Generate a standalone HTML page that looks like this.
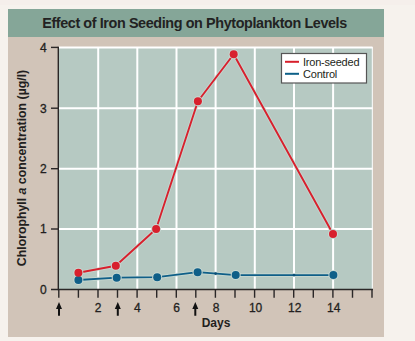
<!DOCTYPE html>
<html><head><meta charset="utf-8">
<style>
html,body{margin:0;padding:0;width:415px;height:341px;overflow:hidden;background:#f6f2ed;}
svg{display:block;}
text{font-family:"Liberation Sans",sans-serif;}
</style></head>
<body>
<svg width="415" height="341" viewBox="0 0 415 341">
  <rect x="0" y="0" width="415" height="341" fill="#f6f2ed"/>
  <rect x="0" y="0" width="415" height="5" fill="#f5efeb"/>
  <!-- panel -->
  <rect x="8" y="9" width="376" height="328" fill="#d1c4b8"/>
  <rect x="8" y="9" width="376" height="28" fill="#85a698"/>
  <text x="42.2" y="27.8" font-size="14.4" letter-spacing="-0.4" font-weight="bold" fill="#222">Effect of Iron Seeding on Phytoplankton Levels</text>

  <!-- plot area -->
  <rect x="59" y="47" width="313.5" height="242.5" fill="#b6c9c2"/>
  <g stroke="#fff" stroke-width="2" fill="none">
    <line x1="59" y1="47.4" x2="372.5" y2="47.4"/>
    <line x1="59" y1="108.2" x2="372.5" y2="108.2"/>
    <line x1="59" y1="168.7" x2="372.5" y2="168.7"/>
    <line x1="59" y1="229" x2="372.5" y2="229"/>
    <line x1="98.2" y1="47" x2="98.2" y2="289"/>
    <line x1="137.3" y1="47" x2="137.3" y2="289"/>
    <line x1="176.5" y1="47" x2="176.5" y2="289"/>
    <line x1="215.6" y1="47" x2="215.6" y2="289"/>
    <line x1="254.8" y1="47" x2="254.8" y2="289"/>
    <line x1="294" y1="47" x2="294" y2="289"/>
    <line x1="333.1" y1="47" x2="333.1" y2="289"/>
    <line x1="372.3" y1="47" x2="372.3" y2="289" stroke-width="1"/>
  </g>

  <!-- axes -->
  <g stroke="#2a2727" stroke-width="1.4" fill="none">
    <line x1="58.3" y1="46.8" x2="58.3" y2="290.2"/>
    <line x1="51" y1="289.5" x2="373" y2="289.5"/>
    <line x1="51" y1="47.4" x2="58.3" y2="47.4"/>
    <line x1="51" y1="108.2" x2="58.3" y2="108.2"/>
    <line x1="51" y1="168.7" x2="58.3" y2="168.7"/>
    <line x1="51" y1="229" x2="58.3" y2="229"/>
    <path d="M58.8 289.5V297.7M78.4 289.5V297.7M98 289.5V297.7M117.5 289.5V297.7M137.1 289.5V297.7M156.7 289.5V297.7M176.3 289.5V297.7M195.8 289.5V297.7M215.4 289.5V297.7M235 289.5V297.7M254.6 289.5V297.7M274.1 289.5V297.7M293.7 289.5V297.7M313.3 289.5V297.7M332.9 289.5V297.7M352.5 289.5V297.7M372 289.5V297.7"/>
  </g>

  <!-- y labels -->
  <g font-size="12" fill="#231f20" stroke="#231f20" stroke-width="0.3" text-anchor="end" transform="translate(-0.4,0)">
    <text x="47" y="51.8">4</text>
    <text x="47" y="112.6">3</text>
    <text x="47" y="173.1">2</text>
    <text x="47" y="233.4">1</text>
    <text x="47" y="293.9">0</text>
  </g>
  <!-- x labels -->
  <g font-size="12" fill="#231f20" stroke="#231f20" stroke-width="0.3" text-anchor="middle">
    <text x="98.2" y="312.3">2</text>
    <text x="137.3" y="312.3">4</text>
    <text x="176.5" y="312.3">6</text>
    <text x="216" y="312.3">8</text>
    <text x="255.6" y="312.3">10</text>
    <text x="294.7" y="312.3">12</text>
    <text x="333.8" y="312.3">14</text>
  </g>
  <text x="216" y="326.8" font-size="12" font-weight="bold" fill="#231f20" text-anchor="middle">Days</text>
  <text transform="translate(25.9,168) rotate(-90)" font-size="12.3" font-weight="bold" fill="#231f20" text-anchor="middle">Chlorophyll <tspan font-style="italic">a</tspan> concentration (µg/l)</text>

  <!-- arrows -->
  <g fill="#111" stroke="none">
    <path d="M59 302L56 309H58V315.8H60V309H62Z"/>
    <path d="M117.8 302L114.8 309H116.8V315.8H118.8V309H120.8Z"/>
    <path d="M195.3 302L192.3 309H194.3V315.8H196.3V309H198.3Z"/>
  </g>

  <!-- data lines -->
  <g fill="none" stroke-linejoin="round" stroke="#cadbd4" stroke-width="3.8" opacity="0.7">
    <polyline points="78.4,280 116.7,277.7 157.2,277.2 197.6,272.2 235.7,275.1 333.4,275.05"/>
    <polyline points="78.4,272.8 115.8,265.8 156.1,229 197.9,101.3 233.67,54.2 333,234"/>
  </g>
  <g fill="none" stroke-linejoin="round">
    <polyline stroke="#0f5f88" stroke-width="1.8" points="78.4,280 116.7,277.7 157.2,277.2 197.6,272.2 235.7,275.1 333.4,275.05"/>
    <polyline stroke="#d8202d" stroke-width="1.9" points="78.4,272.8 115.8,265.8 156.1,229 197.9,101.3 233.67,54.2 333,234"/>
  </g>
  <g fill="#c9d9d3">
    <circle cx="78.4" cy="280" r="5"/>
    <circle cx="116.7" cy="277.7" r="5"/>
    <circle cx="157.2" cy="277.2" r="5"/>
    <circle cx="197.6" cy="272.2" r="5"/>
    <circle cx="235.7" cy="275.1" r="5"/>
    <circle cx="333.4" cy="275.05" r="5"/>
    <circle cx="78.4" cy="272.8" r="5"/>
    <circle cx="115.8" cy="265.8" r="5"/>
    <circle cx="156.1" cy="229" r="5"/>
    <circle cx="197.9" cy="101.3" r="5"/>
    <circle cx="233.67" cy="54.2" r="5"/>
    <circle cx="333" cy="234" r="5"/>
  </g>
  <g fill="#0f5f88">
    <circle cx="78.4" cy="280" r="4"/>
    <circle cx="116.7" cy="277.7" r="4"/>
    <circle cx="157.2" cy="277.2" r="4"/>
    <circle cx="197.6" cy="272.2" r="4"/>
    <circle cx="235.7" cy="275.1" r="4"/>
    <circle cx="333.4" cy="275.05" r="4"/>
  </g>
  <g fill="#d8202d">
    <circle cx="78.4" cy="272.8" r="4"/>
    <circle cx="115.8" cy="265.8" r="4"/>
    <circle cx="156.1" cy="229" r="4"/>
    <circle cx="197.9" cy="101.3" r="4"/>
    <circle cx="233.67" cy="54.2" r="4"/>
    <circle cx="333" cy="234" r="4"/>
  </g>

  <g fill="#0b4f75">
    <circle cx="215.6" cy="273.57" r="1.4"/>
    <circle cx="294" cy="275.1" r="1.3"/>
  </g>

  <!-- legend -->
  <rect x="281.5" y="53.5" width="85" height="29.5" fill="#fff" stroke="#555" stroke-width="1.2"/>
  <line x1="285" y1="61.8" x2="299" y2="61.8" stroke="#d71f2b" stroke-width="2"/>
  <line x1="285" y1="73.8" x2="299" y2="73.8" stroke="#0d6088" stroke-width="2"/>
  <text x="303" y="65.8" font-size="11" letter-spacing="-0.22" fill="#231f20">Iron-seeded</text>
  <text x="303" y="77.8" font-size="11" letter-spacing="-0.2" fill="#231f20">Control</text>
</svg>
</body></html>
